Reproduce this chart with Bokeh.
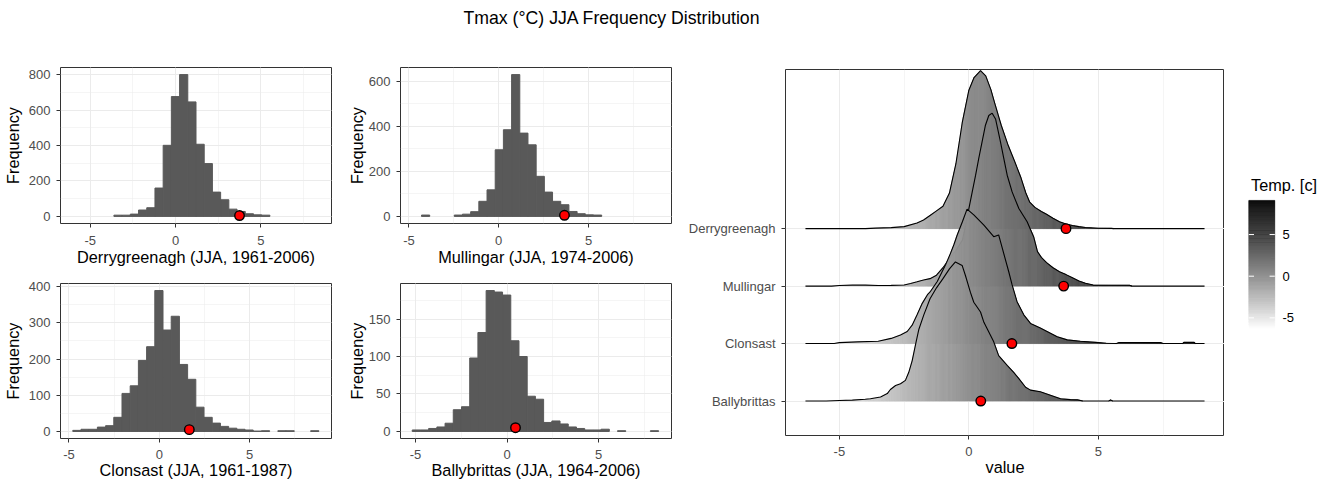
import math
from bokeh.plotting import figure
from bokeh.models import Range1d, SingleIntervalTicker, FixedTicker, LinearColorMapper, ColumnDataSource
from bokeh.layouts import row, column
from bokeh.embed import file_html
from bokeh.resources import INLINE
from bokeh.core.properties import value
from bokeh.transform import transform

FONT = "Liberation Sans"

# ---------------- data ----------------
chart_title = "Tmax (°C) JJA Frequency Distribution"
season = "JJA"
stations = ["Derrygreenagh", "Mullingar", "Clonsast", "Ballybrittas"]
periods = ["1961-2006", "1974-2006", "1961-1987", "1964-2006"]
observed = [3.75, 3.66, 1.66, 0.46]
observed_count = [5, 5, 5, 5]

hist_start = [-3.61, -4.30, -4.79, -5.18]
hist_width = [0.481, 0.456, 0.454, 0.4485]
counts_derrygreenagh = [7, 7, 13, 36, 49, 160, 401, 676, 800, 646, 407, 298, 137, 94, 41, 28, 15, 9, 7]
counts_mullingar = [6, 0, 0, 0, 6, 10, 21, 67, 118, 296, 385, 630, 370, 318, 178, 108, 67, 52, 22, 12, 7, 6]
counts_clonsast = [3, 6, 6, 12, 16, 39, 105, 126, 196, 234, 389, 280, 318, 185, 144, 67, 39, 23, 14, 9,
                   6, 4, 1, 2, 0, 2, 2, 0, 0, 2]
counts_ballybrittas = [2, 2, 4, 6, 11, 29, 33, 98, 132, 188, 186, 182, 121, 100, 47, 43, 12, 14, 10, 6,
                       4, 2, 2, 3, 0, 1, 0, 0, 0, 1]
hist_counts = [counts_derrygreenagh, counts_mullingar, counts_clonsast, counts_ballybrittas]
hist_xlim = [(-6.74, 9.14), (-5.47, 9.62), (-5.47, 9.53), (-5.82, 8.98)]
hist_ytick = [200, 200, 100, 50]
x_tick = 5

# ridge heights (value, scaled density)
ridge_derrygreenagh = [(-6.31, 0), (-4.0, 0), (-3.6, 0.01), (-3.0, 0.018), (-2.5, 0.035), (-2.0, 0.10),
    (-1.75, 0.15), (-1.5, 0.23), (-1.25, 0.31), (-1.0, 0.39), (-0.75, 0.62), (-0.5, 1.13), (-0.25, 1.86),
    (0.0, 2.41), (0.2, 2.63), (0.45, 2.75), (0.65, 2.66), (0.85, 2.42), (1.0, 2.18), (1.25, 1.80),
    (1.5, 1.47), (1.75, 1.19), (2.0, 0.90), (2.2, 0.62), (2.35, 0.46), (2.55, 0.37), (2.8, 0.30),
    (3.0, 0.25), (3.25, 0.18), (3.5, 0.12), (3.75, 0.08), (4.0, 0.055), (4.25, 0.035), (4.5, 0.02),
    (5.0, 0.008), (5.5, 0.005), (5.6, 0), (9.10, 0)]
ridge_mullingar = [(-6.31, 0), (-5.3, 0), (-5.0, 0.01), (-4.5, 0.017), (-4.0, 0.017), (-3.5, 0.01),
    (-3.0, 0.012), (-2.5, 0.02), (-2.25, 0.046), (-2.0, 0.075), (-1.75, 0.105), (-1.5, 0.13),
    (-1.25, 0.19), (-1.0, 0.32), (-0.75, 0.48), (-0.5, 0.62), (-0.25, 0.80), (-0.12, 1.06), (0.0, 1.35),
    (0.13, 1.64), (0.26, 1.93), (0.38, 2.22), (0.51, 2.51), (0.64, 2.80), (0.77, 2.97), (0.9, 3.01),
    (1.03, 2.91), (1.22, 2.51), (1.35, 2.22), (1.48, 1.93), (1.67, 1.64), (1.93, 1.35), (2.25, 1.12),
    (2.5, 0.86), (2.65, 0.60), (2.8, 0.50), (3.0, 0.41), (3.25, 0.32), (3.5, 0.25), (3.75, 0.20),
    (4.0, 0.145), (4.25, 0.09), (4.5, 0.05), (4.8, 0.018), (5.5, 0.015), (6.2, 0.015), (6.3, 0), (9.10, 0)]
ridge_clonsast = [(-6.31, 0), (-5.2, 0), (-5.0, 0.017), (-4.3, 0.03), (-3.5, 0.04), (-3.0, 0.09),
    (-2.64, 0.15), (-2.38, 0.21), (-2.19, 0.32), (-2.0, 0.50), (-1.8, 0.70), (-1.6, 0.85), (-1.48, 0.91),
    (-1.22, 1.08), (-0.9, 1.37), (-0.71, 1.57), (-0.58, 1.72), (-0.45, 1.89), (-0.25, 2.12), (-0.07, 2.34),
    (0.19, 2.24), (0.58, 2.06), (0.96, 1.86), (1.15, 1.89), (1.29, 1.66), (1.54, 1.25), (1.67, 1.02),
    (1.86, 0.73), (2.12, 0.50), (2.38, 0.35), (2.76, 0.27), (3.02, 0.21), (3.41, 0.12), (3.8, 0.064),
    (4.3, 0.04), (4.9, 0.02), (5.3, 0.005), (5.7, 0), (5.8, 0.017), (7.4, 0.017), (7.5, 0), (8.25, 0),
    (8.3, 0.02), (8.7, 0.02), (8.75, 0), (9.10, 0)]
ridge_ballybrittas = [(-6.31, 0), (-5.5, 0), (-5.0, 0.01), (-4.5, 0.015), (-4.0, 0.03), (-3.8, 0.04),
    (-3.41, 0.07), (-3.15, 0.13), (-3.03, 0.20), (-2.83, 0.27), (-2.64, 0.30), (-2.45, 0.36), (-2.32, 0.50),
    (-2.19, 0.70), (-2.06, 0.98), (-1.93, 1.25), (-1.74, 1.50), (-1.5, 1.78), (-1.25, 1.97), (-1.0, 2.13),
    (-0.75, 2.30), (-0.52, 2.42), (-0.26, 2.36), (-0.13, 2.18), (0.06, 1.89), (0.19, 1.72), (0.45, 1.55),
    (0.58, 1.37), (0.77, 1.20), (0.96, 1.03), (1.15, 0.79), (1.48, 0.62), (1.73, 0.50), (1.93, 0.39),
    (2.19, 0.24), (2.38, 0.19), (2.76, 0.16), (3.15, 0.10), (3.54, 0.04), (3.92, 0.024), (4.2, 0.02),
    (4.4, 0), (5.4, 0), (5.47, 0.02), (5.55, 0), (9.10, 0)]
ridges = [ridge_derrygreenagh, ridge_mullingar, ridge_clonsast, ridge_ballybrittas]
legend_title = "Temp. [c]"
legend_ticks = [-5, 0, 5]

# ---------------- styling helpers ----------------
BAR = "#595959"
GRID = "#ebebeb"
BORDER = "#333333"
TICKTXT = "#4d4d4d"


def lab_grey_palette(n=256):
    pal = []
    for i in range(n):
        t = i / (n - 1)
        L = 100 * (1 - t)
        fy = (L + 16) / 116
        Y = fy ** 3 if fy ** 3 > 0.008856 else L / 903.3
        c = 1.055 * Y ** (1 / 2.4) - 0.055 if Y > 0.0031308 else 12.92 * Y
        v = max(0, min(255, round(255 * c)))
        pal.append("#%02x%02x%02x" % (v, v, v))
    return pal


def style_axes(p, tick_standoff, label_standoff, ylabel_standoff=4):
    p.background_fill_color = "white"
    p.border_fill_color = "white"
    p.outline_line_color = BORDER
    p.outline_line_width = 1
    for ax in p.axis:
        ax.axis_line_color = None
        ax.major_tick_line_color = BORDER
        ax.major_tick_out = 4
        ax.major_tick_in = 0
        ax.minor_tick_line_color = None
        ax.major_label_text_font = FONT
        ax.major_label_text_font_size = "13px"
        ax.major_label_text_color = TICKTXT
        ax.axis_label_text_font = FONT
        ax.axis_label_text_font_size = "16.3px"
        ax.axis_label_text_font_style = "normal"
        ax.axis_label_text_color = "black"
    p.xaxis.major_label_standoff = tick_standoff
    p.xaxis.axis_label_standoff = label_standoff
    p.yaxis.major_label_standoff = 6
    p.yaxis.axis_label_standoff = ylabel_standoff
    for g in p.grid:
        g.grid_line_color = GRID
        g.grid_line_width = 1
        g.minor_grid_line_color = GRID
        g.minor_grid_line_width = 0.5


def make_hist(i, fh, lb, rb, tb, bb, tick_standoff, label_standoff, ylabel_standoff):
    counts = hist_counts[i]
    cmax = max(counts)
    p = figure(title=None, frame_width=271, frame_height=fh,
               x_range=Range1d(*hist_xlim[i]), y_range=Range1d(-0.05 * cmax, 1.05 * cmax),
               output_backend="svg", toolbar_location=None,
               min_border_left=lb, min_border_right=rb, min_border_top=tb, min_border_bottom=bb)
    lefts, rights, tops = [], [], []
    for k, c in enumerate(counts):
        if c > 0:
            lefts.append(hist_start[i] + k * hist_width[i])
            rights.append(hist_start[i] + (k + 1) * hist_width[i])
            tops.append(c)
    p.quad(left=lefts, right=rights, bottom=0, top=tops, fill_color=BAR, line_color=BAR, line_width=1)
    p.scatter([observed[i]], [observed_count[i]], size=9.5, fill_color="red", line_color="black", line_width=1.4)
    p.xaxis.ticker = SingleIntervalTicker(interval=x_tick, num_minor_ticks=2)
    p.yaxis.ticker = SingleIntervalTicker(interval=hist_ytick[i], num_minor_ticks=2)
    p.xaxis.major_label_overrides = {-5: "-5"}
    p.xaxis.axis_label = "%s (%s, %s)" % (stations[i], season, periods[i])
    p.yaxis.axis_label = "Frequency"
    style_axes(p, tick_standoff, label_standoff, ylabel_standoff)
    return p


p1 = make_hist(0, 156, 60, 13, 19, 48, 8, 0, 4)
p2 = make_hist(1, 156, 56, 9, 19, 48, 8, 0, 0)
p3 = make_hist(2, 155, 60, 13, 12, 42, 7, -1, 4)
p4 = make_hist(3, 155, 56, 9, 12, 42, 7, -1, 0)

# ---------------- ridgeline panel ----------------
greys = lab_grey_palette()
all_x = [x for r in ridges for x, _ in r]
ridge_lo, ridge_hi = min(all_x), max(all_x)
pad = 0.05 * (ridge_hi - ridge_lo)
mapper = LinearColorMapper(palette=greys, low=ridge_lo, high=ridge_hi)
n_st = len(stations)
positions = [n_st - i for i in range(n_st)]
top_val = max(pos + max(h for _, h in r) for pos, r in zip(positions, ridges))

p5 = figure(title=None, frame_width=439, frame_height=366,
            x_range=Range1d(ridge_lo - pad, ridge_hi + pad), y_range=Range1d(0.4, top_val + 0.02),
            output_backend="svg", toolbar_location=None,
            min_border_left=105, min_border_right=0, min_border_top=21, min_border_bottom=45)


def ridge_slices(points, base, step=0.04):
    xs_l, ys_l, cs = [], [], []
    for (xa, ha), (xb, hb) in zip(points[:-1], points[1:]):
        if ha == 0 and hb == 0:
            continue
        n = max(1, int(math.ceil((xb - xa) / step)))
        for k in range(n):
            x0 = xa + (xb - xa) * k / n
            x1 = xa + (xb - xa) * (k + 1) / n
            h0 = ha + (hb - ha) * k / n
            h1 = ha + (hb - ha) * (k + 1) / n
            xs_l.append([x0, x0, x1, x1])
            ys_l.append([base, base + h0, base + h1, base])
            cs.append((x0 + x1) / 2)
    return dict(xs=xs_l, ys=ys_l, c=cs)


for pos, r in zip(positions, ridges):
    src = ColumnDataSource(ridge_slices(r, pos))
    p5.patches("xs", "ys", source=src, fill_color=transform("c", mapper),
               line_color=transform("c", mapper), line_width=0.6)
    p5.line([x for x, _ in r], [pos + h for _, h in r], line_color="black", line_width=1.1)

p5.scatter(observed, positions, size=9.5, fill_color="red", line_color="black", line_width=1.4)
p5.xaxis.ticker = SingleIntervalTicker(interval=x_tick, num_minor_ticks=2)
p5.xaxis.major_label_overrides = {-5: "-5"}
p5.yaxis.ticker = FixedTicker(ticks=positions)
p5.yaxis.major_label_overrides = {pos: s for pos, s in zip(positions, stations)}
p5.xaxis.axis_label = "value"
style_axes(p5, 7, -1)
p5.yaxis.major_label_standoff = 6

# ---------------- legend (colour bar) ----------------
leg_h = 432
px_per_unit = 8.33
zero_px = 206.7  # pixel (from legend top) where value 0 sits
title_px = 115.0  # pixel (from legend top) of the legend title
v_top = zero_px / px_per_unit
v_bot = (zero_px - leg_h) / px_per_unit
pl = figure(title=None, frame_width=101, frame_height=leg_h, x_range=Range1d(0, 101), y_range=Range1d(v_bot, v_top),
            x_axis_type=None, y_axis_type=None, output_backend="svg", toolbar_location=None,
            min_border_left=0, min_border_right=0, min_border_top=0, min_border_bottom=0)
pl.outline_line_color = None
pl.background_fill_color = "white"
pl.border_fill_color = "white"
nseg = 160
seg = (ridge_hi - ridge_lo) / nseg
bars = dict(bottom=[ridge_lo + k * seg for k in range(nseg)], top=[ridge_lo + (k + 1) * seg for k in range(nseg)],
            c=[ridge_lo + (k + 0.5) * seg for k in range(nseg)])
pl.quad(left=24.3, right=50.3, bottom="bottom", top="top", source=ColumnDataSource(bars),
        fill_color=transform("c", mapper), line_color=transform("c", mapper), line_width=0.5)
pl.segment(x0=[24.3] * 3, x1=[29.5] * 3, y0=legend_ticks, y1=legend_ticks, line_color="white", line_width=1)
pl.segment(x0=[45.1] * 3, x1=[50.3] * 3, y0=legend_ticks, y1=legend_ticks, line_color="white", line_width=1)
pl.text(x=[58] * 3, y=legend_ticks, text=[str(t) for t in legend_ticks], text_font=value(FONT),
        text_font_size=value("13px"), text_color="black", text_align="left", text_baseline="middle")
pl.text(x=[26.5], y=[v_top - title_px / px_per_unit], text=[legend_title], text_font=value(FONT),
        text_font_size=value("16.3px"), text_color="black", text_align="left", text_baseline="middle")

# ---------------- title ----------------
pt = figure(title=None, frame_width=1320, frame_height=48, x_range=Range1d(0, 1320), y_range=Range1d(48, 0),
            x_axis_type=None, y_axis_type=None, output_backend="svg", toolbar_location=None,
            min_border_left=0, min_border_right=0, min_border_top=0, min_border_bottom=0)
pt.outline_line_color = None
pt.text(x=[611.5], y=[17], text=[chart_title], text_font=value(FONT), text_font_size=value("17.7px"),
        text_color="black", text_align="center", text_baseline="middle")

layout = column(pt, row(column(row(p1, p2), row(p3, p4)), p5, pl))
open("out.html", "w").write(file_html(layout, INLINE))
